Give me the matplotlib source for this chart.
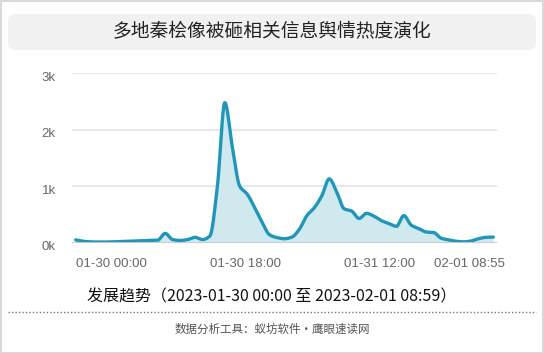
import numpy as np
import matplotlib
matplotlib.use("Agg")
import matplotlib.pyplot as plt
from matplotlib.patches import FancyBboxPatch, Rectangle
from matplotlib.lines import Line2D
import matplotlib.transforms as mtransforms

# ---- data ----
hours = list(range(57))  # hourly from 2023-01-30 00:00
values = [50, 25, 15, 12, 12, 15, 20, 25, 30, 35,
          40, 45, 165, 55, 40, 55, 95, 55, 120, 1000,
          2480, 1700, 1000, 860, 620, 360, 140, 90, 70, 100,
          240, 480, 620, 830, 1130, 900, 600, 560, 430, 520,
          470, 390, 340, 290, 480, 310, 250, 190, 180, 80,
          50, 25, 15, 30, 70, 95, 100]
tick_pos = [0, 18, 36, 56]
tick_labels = ["01-30 00:00", "01-30 18:00", "01-31 12:00", "02-01 08:55"]
y_ticks = [0, 1000, 2000, 3000]
y_labels = ["0k", "1k", "2k", "3k"]
title = "多地秦桧像被砸相关信息舆情热度演化"
subtitle = "发展趋势（2023-01-30 00:00 至 2023-02-01 08:59）"
footer = "数据分析工具：蚁坊软件·鹰眼速读网"


def monotone_smooth(x, y, n=20):
    x = np.asarray(x, float)
    y = np.asarray(y, float)
    h = np.diff(x)
    d = np.diff(y) / h
    m = np.zeros_like(y)
    m[0], m[-1] = d[0], d[-1]
    for i in range(1, len(y) - 1):
        if d[i - 1] * d[i] <= 0:
            m[i] = 0
        else:
            w1 = 2 * h[i] + h[i - 1]
            w2 = h[i] + 2 * h[i - 1]
            m[i] = (w1 + w2) / (w1 / d[i - 1] + w2 / d[i])
    xs, ys = [], []
    for i in range(len(x) - 1):
        t = np.linspace(0, 1, n, endpoint=False)
        h00 = 2 * t**3 - 3 * t**2 + 1
        h10 = t**3 - 2 * t**2 + t
        h01 = -2 * t**3 + 3 * t**2
        h11 = t**3 - t**2
        xs.append(x[i] + t * h[i])
        ys.append(h00 * y[i] + h10 * h[i] * m[i] + h01 * y[i + 1] + h11 * h[i] * m[i + 1])
    xs.append([x[-1]])
    ys.append([y[-1]])
    return np.concatenate(xs), np.concatenate(ys)


plt.rcParams['font.family'] = ['Liberation Sans', 'Noto Sans CJK SC', 'DejaVu Sans']

W, H = 544, 353
fig = plt.figure(figsize=(W / 100, H / 100), dpi=100)
fig.patch.set_facecolor("white")

# outer border
fig.add_artist(Rectangle((0.5 / W, 0.5 / H), 1 - 1.5 / W, 1 - 1.5 / H, transform=fig.transFigure,
                         fill=False, edgecolor="#d9d9d9", linewidth=1.5))

# title box
bx0, by0, bx1, by1 = 8, 14, 536, 50
fig.add_artist(FancyBboxPatch((bx0 / W, 1 - by1 / H), (bx1 - bx0) / W, (by1 - by0) / H,
                              boxstyle="round,pad=0,rounding_size=0.015",
                              transform=fig.transFigure, facecolor="#f1f1f1", edgecolor="none",
                              mutation_aspect=W / H))
fig.text(0.5, 1 - 32 / H, title, ha="center", va="center", fontsize=13.5,
         family=['Noto Sans CJK SC', 'DejaVu Sans'], color="#222222")

# axes
left, right = 72.3, 496.7
top, bottom = 73.3, 242.7
ax = fig.add_axes([left / W, 1 - bottom / H, (right - left) / W, (bottom - top) / H])
ax.set_xlim(-0.455, 56.455)
ax.set_ylim(0, 3000)

sx, sy = monotone_smooth(hours, values)
ax.fill_between(sx, 0, sy, color="#cfe9ee", linewidth=0, zorder=2)
ax.plot(sx, sy, color="#2196b8", linewidth=2.4, zorder=3, solid_capstyle="round")

for yv in y_ticks[1:]:
    ax.axhline(yv, color="#e6e6e6", linewidth=1.3, zorder=1)
ax.axhline(0, color="#cccccc", linewidth=1.3, zorder=4)

for s in ax.spines.values():
    s.set_visible(False)
ax.set_yticks(y_ticks)
ax.set_yticklabels(y_labels)
ax.set_xticks(tick_pos)
ax.set_xticklabels(tick_labels)
ax.tick_params(axis="both", length=0, labelsize=9.5, labelcolor="#666666")
ax.tick_params(axis="y", pad=12)
ax.tick_params(axis="x", pad=11)
ax.set_facecolor("none")

down = mtransforms.ScaledTranslation(0, -3 / 100, fig.dpi_scale_trans)
for lb in ax.get_yticklabels():
    lb.set_transform(lb.get_transform() + down)

labs = ax.get_xticklabels()
for lb in labs[:-1]:
    lb.set_ha("left")
labs[-1].set_ha("right")
labs[-1].set_transform(labs[-1].get_transform() +
                       mtransforms.ScaledTranslation(12 / 100, 0, fig.dpi_scale_trans))

# subtitle
fig.text(0.5, 1 - 297 / H, subtitle, ha="center", va="center", fontsize=11.5,
         family=['Noto Sans CJK SC', 'DejaVu Sans'], color="#111111")
fig.add_artist(Line2D([8 / W, 536 / W], [1 - 311.5 / H, 1 - 311.5 / H], transform=fig.transFigure,
                      color="#777777", linewidth=1, linestyle=(0, (1, 1.5))))
fig.text(0.5, 1 - 329 / H, footer, ha="center", va="center", fontsize=8.3,
         family=['Noto Sans CJK SC', 'DejaVu Sans'], color="#555555")

fig.savefig("out.png", dpi=100, facecolor="white")
